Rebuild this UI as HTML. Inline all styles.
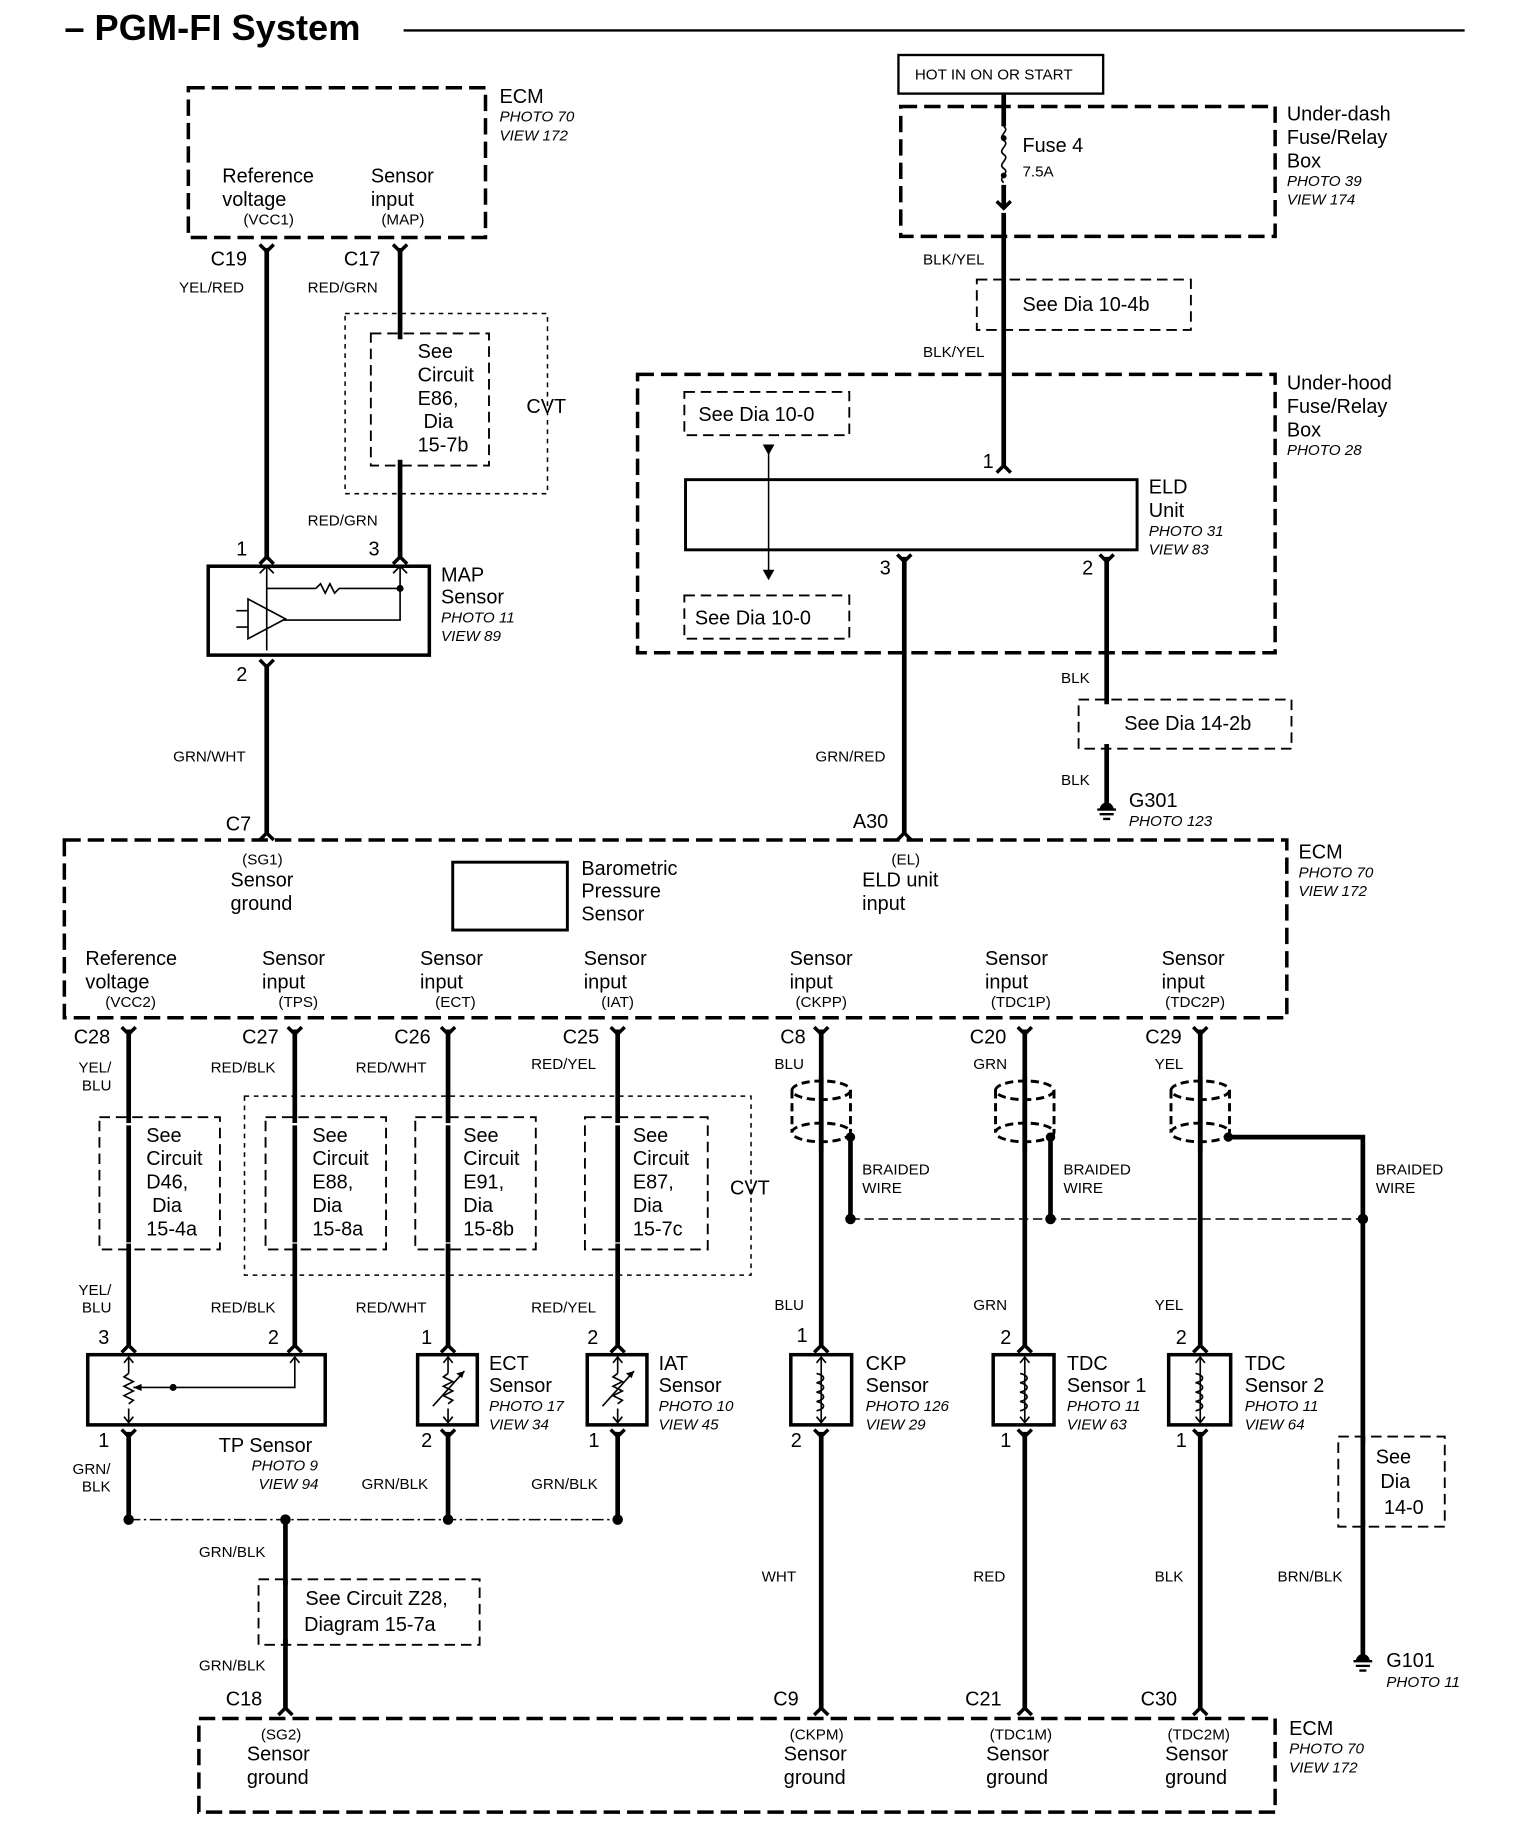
<!DOCTYPE html>
<html><head><meta charset="utf-8"><style>
html,body{margin:0;padding:0;background:#fff}
svg{display:block}
text{font-family:"Liberation Sans",Arial,sans-serif;fill:#000}
.s{font-size:17px}.m{font-size:13px}.i{font-size:13px;font-style:italic}.n{font-size:17px}
.w{stroke:#000;stroke-width:4;fill:none}
.f{stroke:#000;stroke-width:3;fill:none}
.d{stroke:#000;stroke-width:3;fill:none;stroke-dasharray:14 6}
.b{stroke:#000;stroke-width:1.6;fill:none;stroke-dasharray:9 5}
.o{stroke:#000;stroke-width:1.3;fill:none;stroke-dasharray:4 4}
.t{stroke:#000;stroke-width:1.4;fill:none}
.r{stroke:#000;stroke-width:3;fill:none}
</style></head><body>
<svg width="1536" height="1832" viewBox="0 0 1313 1566" xmlns="http://www.w3.org/2000/svg">
<text x="55" y="34" style="font-size:31px;font-weight:bold">– PGM-FI System</text>
<line x1="345" y1="26" x2="1252" y2="26" stroke="#000" stroke-width="2"/>

<rect x="161" y="75" width="254" height="128" class="d"/>
<text x="427" y="88" class="s">ECM</text><text x="427" y="104" class="i">PHOTO 70</text><text x="427" y="120" class="i">VIEW 172</text>
<text x="190" y="156" class="s">Reference</text><text x="190" y="176" class="s">voltage</text><text x="208" y="192" class="m">(VCC1)</text>
<text x="317" y="156" class="s">Sensor</text><text x="317" y="176" class="s">input</text><text x="326" y="192" class="m">(MAP)</text>
<path class="w" d="M228 212V478M342 212V478"/>
<path class="f" d="M222 209L228 215L234 209M336 209L342 215L348 209M222 482L228 476L234 482M336 482L342 476L348 482"/>
<text x="180" y="227" class="n">C19</text><text x="294" y="227" class="n">C17</text>
<text x="153" y="250" class="m">YEL/RED</text><text x="263" y="250" class="m">RED/GRN</text>
<rect x="295" y="268" width="173" height="154" class="o"/>
<rect x="317" y="285" width="101" height="113" class="b"/>
<rect x="330" y="290" width="75" height="103" fill="#fff"/>
<text x="357" y="306" class="s">See</text><text x="357" y="326" class="s">Circuit</text><text x="357" y="346" class="s">E86,</text><text x="362" y="366" class="s">Dia</text><text x="357" y="386" class="s">15-7b</text>
<text x="450" y="353" class="s">CVT</text>
<text x="263" y="449" class="m">RED/GRN</text>
<text x="202" y="475" class="n">1</text><text x="315" y="475" class="n">3</text>
<rect x="178" y="484" width="189" height="76" class="r"/>
<path class="t" d="M228 484V496M228 490V545M342 484V530H242M228 503H270M270 503l4-4 4 8 4-8 4 8 4-4H342V503M222 490l6-6 6 6M336 490l6-6 6 6"/>
<path class="t" d="M212 512V546L244 529Z M202 522H212M202 536H212M228 545V556"/>
<circle cx="342" cy="503" r="3"/>
<text x="377" y="497" class="s">MAP</text><text x="377" y="516" class="s">Sensor</text><text x="377" y="532" class="i">PHOTO 11</text><text x="377" y="548" class="i">VIEW 89</text>
<text x="202" y="582" class="n">2</text>
<path class="w" d="M228 568V714"/><path class="f" d="M222 564L228 570L234 564M222 718L228 712L234 718"/>
<text x="148" y="651" class="m">GRN/WHT</text>
<text x="193" y="710" class="n">C7</text>

<rect x="768" y="47" width="175" height="33" stroke="#000" stroke-width="2" fill="none"/>
<text x="782" y="68" class="m">HOT IN ON OR START</text>
<rect x="770" y="91" width="320" height="111" class="d"/>
<path class="w" d="M858 80V108M858 158V176M858 182V400"/>
<path class="t" d="M858 108c6 4 -6 8 0 12s-6 8 0 12 -6 8 0 12 -6 8 0 12"/>
<circle cx="858" cy="118" r="2.5"/><circle cx="858" cy="150" r="2.5"/>
<path class="f" d="M852 172L858 178L864 172M852 404L858 398L864 404"/>
<text x="874" y="130" class="s">Fuse 4</text><text x="874" y="151" class="m">7.5A</text>
<text x="1100" y="103" class="s">Under-dash</text><text x="1100" y="123" class="s">Fuse/Relay</text><text x="1100" y="143" class="s">Box</text><text x="1100" y="159" class="i">PHOTO 39</text><text x="1100" y="175" class="i">VIEW 174</text>
<text x="789" y="226" class="m">BLK/YEL</text>
<rect x="835" y="239" width="183" height="43" class="b"/>
<text x="874" y="266" class="s">See Dia  10-4b</text>
<text x="789" y="305" class="m">BLK/YEL</text>
<rect x="545" y="320" width="545" height="238" class="d"/>
<text x="1100" y="333" class="s">Under-hood</text><text x="1100" y="353" class="s">Fuse/Relay</text><text x="1100" y="373" class="s">Box</text><text x="1100" y="389" class="i">PHOTO 28</text>
<text x="840" y="400" class="n">1</text>
<rect x="586" y="410" width="386" height="60" stroke="#000" stroke-width="2.5" fill="none"/>
<text x="982" y="422" class="s">ELD</text><text x="982" y="442" class="s">Unit</text><text x="982" y="458" class="i">PHOTO 31</text><text x="982" y="474" class="i">VIEW 83</text>
<rect x="585" y="335" width="141" height="37" class="b"/><text x="597" y="360" class="s">See Dia 10-0</text>
<rect x="585" y="509" width="141" height="37" class="b"/><text x="594" y="534" class="s">See Dia 10-0</text>
<path stroke="#000" stroke-width="1.3" d="M657 380V492"/><path d="M652 380h10l-5 9z M652 487h10l-5 9z"/>
<text x="752" y="491" class="n">3</text><text x="925" y="491" class="n">2</text>
<path class="w" d="M773 476V714M946 476V688"/>
<path class="f" d="M767 474L773 480L779 474M940 474L946 480L952 474M767 718L773 712L779 718"/>
<text x="907" y="584" class="m">BLK</text>
<rect x="922" y="598" width="182" height="42" class="b"/><rect x="940" y="602" width="150" height="34" fill="#fff"/>
<text x="961" y="624" class="s">See Dia 14-2b</text>
<text x="907" y="671" class="m">BLK</text>
<path stroke="#000" stroke-width="2" d="M938 692h16M940 696h12M943 700h6"/><path d="M940 692a6 6 0 0 1 12 0z"/>
<text x="965" y="690" class="s">G301</text><text x="965" y="706" class="i">PHOTO 123</text>
<text x="697" y="651" class="m">GRN/RED</text>
<text x="729" y="708" class="n">A30</text>

<rect x="55" y="718" width="1045" height="152" class="d"/>
<text x="1110" y="734" class="s">ECM</text><text x="1110" y="750" class="i">PHOTO 70</text><text x="1110" y="766" class="i">VIEW 172</text>
<text x="207" y="739" class="m">(SG1)</text><text x="197" y="758" class="s">Sensor</text><text x="197" y="778" class="s">ground</text>
<rect x="387" y="737" width="98" height="58" stroke="#000" stroke-width="2.5" fill="none"/>
<text x="497" y="748" class="s">Barometric</text><text x="497" y="767" class="s">Pressure</text><text x="497" y="787" class="s">Sensor</text>
<text x="762" y="739" class="m">(EL)</text><text x="737" y="758" class="s">ELD unit</text><text x="737" y="778" class="s">input</text>
<g class="s">
<text x="73" y="825">Reference</text><text x="73" y="845">voltage</text>
<text x="224" y="825">Sensor</text><text x="224" y="845">input</text>
<text x="359" y="825">Sensor</text><text x="359" y="845">input</text>
<text x="499" y="825">Sensor</text><text x="499" y="845">input</text>
<text x="675" y="825">Sensor</text><text x="675" y="845">input</text>
<text x="842" y="825">Sensor</text><text x="842" y="845">input</text>
<text x="993" y="825">Sensor</text><text x="993" y="845">input</text>
</g>
<g class="m">
<text x="90" y="861">(VCC2)</text><text x="238" y="861">(TPS)</text><text x="372" y="861">(ECT)</text><text x="514" y="861">(IAT)</text><text x="680" y="861">(CKPP)</text><text x="847" y="861">(TDC1P)</text><text x="996" y="861">(TDC2P)</text>
</g>
<g class="n">
<text x="63" y="892">C28</text><text x="207" y="892">C27</text><text x="337" y="892">C26</text><text x="481" y="892">C25</text><text x="667" y="892">C8</text><text x="829" y="892">C20</text><text x="979" y="892">C29</text>
</g>
<path class="w" d="M110 880V1152M252 880V1152M383 880V1152M528 880V1152M702 880V1152M876 880V1152M1026 880V1152"/>
<path class="f" d="M104 878l6 6 6-6M246 878l6 6 6-6M377 878l6 6 6-6M522 878l6 6 6-6M696 878l6 6 6-6M870 878l6 6 6-6M1020 878l6 6 6-6"/>
<path class="f" d="M104 1156l6-6 6 6M246 1156l6-6 6 6M377 1156l6-6 6 6M522 1156l6-6 6 6M696 1156l6-6 6 6M870 1156l6-6 6 6M1020 1156l6-6 6 6"/>
<g class="m">
<text x="67" y="917">YEL/</text><text x="70" y="932">BLU</text>
<text x="180" y="917">RED/BLK</text><text x="304" y="917">RED/WHT</text><text x="454" y="914">RED/YEL</text>
<text x="662" y="914">BLU</text><text x="832" y="914">GRN</text><text x="987" y="914">YEL</text>
<text x="67" y="1107">YEL/</text><text x="70" y="1122">BLU</text>
<text x="180" y="1122">RED/BLK</text><text x="304" y="1122">RED/WHT</text><text x="454" y="1122">RED/YEL</text>
<text x="662" y="1120">BLU</text><text x="832" y="1120">GRN</text><text x="987" y="1120">YEL</text>
</g>
<rect x="209" y="937" width="433" height="153" class="o"/>
<text x="624" y="1021" class="s">CVT</text>
<g>
<rect x="85" y="955" width="103" height="113" class="b"/><rect x="98" y="960" width="78" height="103" fill="#fff"/>
<rect x="227" y="955" width="103" height="113" class="b"/><rect x="240" y="960" width="78" height="103" fill="#fff"/>
<rect x="355" y="955" width="103" height="113" class="b"/><rect x="368" y="960" width="78" height="103" fill="#fff"/>
<rect x="500" y="955" width="105" height="113" class="b"/><rect x="513" y="960" width="80" height="103" fill="#fff"/>
</g>
<g class="s">
<text x="125" y="976">See</text><text x="125" y="996">Circuit</text><text x="125" y="1016">D46,</text><text x="130" y="1036">Dia</text><text x="125" y="1056">15-4a</text>
<text x="267" y="976">See</text><text x="267" y="996">Circuit</text><text x="267" y="1016">E88,</text><text x="267" y="1036">Dia</text><text x="267" y="1056">15-8a</text>
<text x="396" y="976">See</text><text x="396" y="996">Circuit</text><text x="396" y="1016">E91,</text><text x="396" y="1036">Dia</text><text x="396" y="1056">15-8b</text>
<text x="541" y="976">See</text><text x="541" y="996">Circuit</text><text x="541" y="1016">E87,</text><text x="541" y="1036">Dia</text><text x="541" y="1056">15-7c</text>
</g>
<path class="w" d="M110 962V1062M252 962V1062M383 962V1062M528 962V1062"/>
<g stroke="#000" stroke-width="2.5" fill="none" stroke-dasharray="7 4">
<ellipse cx="702" cy="932" rx="25" ry="8"/><ellipse cx="702" cy="968" rx="25" ry="8"/><path d="M677 932V968M727 932V968"/>
<ellipse cx="876" cy="932" rx="25" ry="8"/><ellipse cx="876" cy="968" rx="25" ry="8"/><path d="M851 932V968M901 932V968"/>
<ellipse cx="1026" cy="932" rx="25" ry="8"/><ellipse cx="1026" cy="968" rx="25" ry="8"/><path d="M1001 932V968M1051 932V968"/>
</g>
<path class="w" d="M702 920V985M876 920V985M1026 920V985"/>
<path class="w" d="M727 972V1042M898 972V1042M1050 972H1165V1418"/>
<circle cx="727" cy="972" r="4"/><circle cx="898" cy="972" r="4"/><circle cx="1050" cy="972" r="4"/>
<path stroke="#000" stroke-width="1.3" stroke-dasharray="8 4" d="M727 1042H1165"/>
<circle cx="727" cy="1042" r="4.5"/><circle cx="898" cy="1042" r="4.5"/><circle cx="1165" cy="1042" r="4.5"/>
<g class="m">
<text x="737" y="1004">BRAIDED</text><text x="737" y="1020">WIRE</text>
<text x="909" y="1004">BRAIDED</text><text x="909" y="1020">WIRE</text>
<text x="1176" y="1004">BRAIDED</text><text x="1176" y="1020">WIRE</text>
</g>
<g class="n">
<text x="84" y="1149">3</text><text x="229" y="1149">2</text><text x="360" y="1149">1</text><text x="502" y="1149">2</text><text x="681" y="1147">1</text><text x="855" y="1149">2</text><text x="1005" y="1149">2</text>
<text x="84" y="1237">1</text><text x="360" y="1237">2</text><text x="503" y="1237">1</text><text x="676" y="1237">2</text><text x="855" y="1237">1</text><text x="1005" y="1237">1</text>
</g>
<rect x="75" y="1158" width="203" height="60" class="r"/>
<path class="t" d="M110 1160V1174M110 1204V1216M110 1174l-4 3 8 4-8 4 8 4-8 4 8 4-4 3M252 1160V1186H114M106 1165l4-5 4 5M248 1165l4-5 4 5M106 1211l4 5 4-5"/>
<circle cx="148" cy="1186" r="3"/><path d="M114 1186l7-3v6z"/>
<text x="187" y="1241" class="s">TP Sensor</text><text x="215" y="1257" class="i">PHOTO 9</text><text x="221" y="1273" class="i">VIEW 94</text>
<g class="t">
<rect x="357" y="1158" width="51" height="60" stroke-width="3"/>
<rect x="502" y="1158" width="51" height="60" stroke-width="3"/>
<path d="M383 1160V1174M383 1204V1216M383 1174l-4 3 8 4-8 4 8 4-8 4 8 4-4 3M370 1202L397 1172M379 1165l4-5 4 5M379 1211l4 5 4-5"/>
<path d="M528 1160V1174M528 1204V1216M528 1174l-4 3 8 4-8 4 8 4-8 4 8 4-4 3M515 1202L542 1172M524 1165l4-5 4 5M524 1211l4 5 4-5"/>
</g>
<path d="M397 1172l-7 2 5 4z M542 1172l-7 2 5 4z"/>
<g class="t">
<rect x="676" y="1158" width="52" height="60" stroke-width="3"/>
<rect x="849" y="1158" width="52" height="60" stroke-width="3"/>
<rect x="999" y="1158" width="53" height="60" stroke-width="3"/>
<path d="M702 1160V1216M698 1174c8 2 8 6 0 8 8 2 8 6 0 8 8 2 8 6 0 8 8 2 8 6 0 8M698 1165l4-5 4 5M698 1211l4 5 4-5"/>
<path d="M876 1160V1216M872 1174c8 2 8 6 0 8 8 2 8 6 0 8 8 2 8 6 0 8 8 2 8 6 0 8M872 1165l4-5 4 5M872 1211l4 5 4-5"/>
<path d="M1026 1160V1216M1022 1174c8 2 8 6 0 8 8 2 8 6 0 8 8 2 8 6 0 8 8 2 8 6 0 8M1022 1165l4-5 4 5M1022 1211l4 5 4-5"/>
</g>
<text x="418" y="1171" class="s">ECT</text><text x="418" y="1190" class="s">Sensor</text><text x="418" y="1206" class="i">PHOTO 17</text><text x="418" y="1222" class="i">VIEW 34</text>
<text x="563" y="1171" class="s">IAT</text><text x="563" y="1190" class="s">Sensor</text><text x="563" y="1206" class="i">PHOTO 10</text><text x="563" y="1222" class="i">VIEW 45</text>
<text x="740" y="1171" class="s">CKP</text><text x="740" y="1190" class="s">Sensor</text><text x="740" y="1206" class="i">PHOTO 126</text><text x="740" y="1222" class="i">VIEW 29</text>
<text x="912" y="1171" class="s">TDC</text><text x="912" y="1190" class="s">Sensor 1</text><text x="912" y="1206" class="i">PHOTO 11</text><text x="912" y="1222" class="i">VIEW 63</text>
<text x="1064" y="1171" class="s">TDC</text><text x="1064" y="1190" class="s">Sensor 2</text><text x="1064" y="1206" class="i">PHOTO 11</text><text x="1064" y="1222" class="i">VIEW 64</text>
<path class="w" d="M110 1224V1299M383 1224V1299M528 1224V1299M244 1299V1462M702 1224V1462M876 1224V1462M1026 1224V1462"/>
<path class="f" d="M104 1222l6 6 6-6M377 1222l6 6 6-6M522 1222l6 6 6-6M696 1222l6 6 6-6M870 1222l6 6 6-6M1020 1222l6 6 6-6"/>
<path class="f" d="M238 1466l6-6 6 6M696 1466l6-6 6 6M870 1466l6-6 6 6M1020 1466l6-6 6 6"/>
<path stroke="#000" stroke-width="1.3" stroke-dasharray="10 3 2 3" d="M110 1299H528"/>
<circle cx="110" cy="1299" r="4.5"/><circle cx="244" cy="1299" r="4.5"/><circle cx="383" cy="1299" r="4.5"/><circle cx="528" cy="1299" r="4.5"/>
<g class="m">
<text x="62" y="1260">GRN/</text><text x="70" y="1275">BLK</text>
<text x="309" y="1273">GRN/BLK</text><text x="454" y="1273">GRN/BLK</text>
<text x="170" y="1331">GRN/BLK</text><text x="170" y="1428">GRN/BLK</text>
<text x="651" y="1352">WHT</text><text x="832" y="1352">RED</text><text x="987" y="1352">BLK</text><text x="1092" y="1352">BRN/BLK</text>
</g>
<rect x="221" y="1350" width="189" height="56" class="b"/><rect x="232" y="1355" width="167" height="46" fill="#fff"/>
<path class="w" d="M244 1350V1406"/>
<text x="261" y="1372" class="s">See Circuit Z28,</text><text x="260" y="1394" class="s">Diagram 15-7a</text>
<rect x="1144" y="1228" width="91" height="77" class="b"/><rect x="1150" y="1234" width="79" height="65" fill="#fff"/>
<path class="w" d="M1165 1228V1305"/>
<rect x="1172" y="1236" width="55" height="62" fill="#fff"/>
<text x="1176" y="1251" class="s">See</text><text x="1180" y="1272" class="s">Dia</text><text x="1183" y="1294" class="s">14-0</text>
<path stroke="#000" stroke-width="2" d="M1157 1420h16M1159 1424h12M1162 1428h6"/><path d="M1159 1420a6 6 0 0 1 12 0z"/>
<text x="1185" y="1425" class="s">G101</text><text x="1185" y="1442" class="i">PHOTO 11</text>
<g class="n"><text x="193" y="1458">C18</text><text x="661" y="1458">C9</text><text x="825" y="1458">C21</text><text x="975" y="1458">C30</text></g>
<rect x="170" y="1469" width="920" height="80" class="d"/>
<text x="1102" y="1483" class="s">ECM</text><text x="1102" y="1499" class="i">PHOTO 70</text><text x="1102" y="1515" class="i">VIEW 172</text>
<text x="223" y="1487" class="m">(SG2)</text><text x="211" y="1505" class="s">Sensor</text><text x="211" y="1525" class="s">ground</text>
<text x="675" y="1487" class="m">(CKPM)</text><text x="670" y="1505" class="s">Sensor</text><text x="670" y="1525" class="s">ground</text>
<text x="846" y="1487" class="m">(TDC1M)</text><text x="843" y="1505" class="s">Sensor</text><text x="843" y="1525" class="s">ground</text>
<text x="998" y="1487" class="m">(TDC2M)</text><text x="996" y="1505" class="s">Sensor</text><text x="996" y="1525" class="s">ground</text>
</svg>
</body></html>
